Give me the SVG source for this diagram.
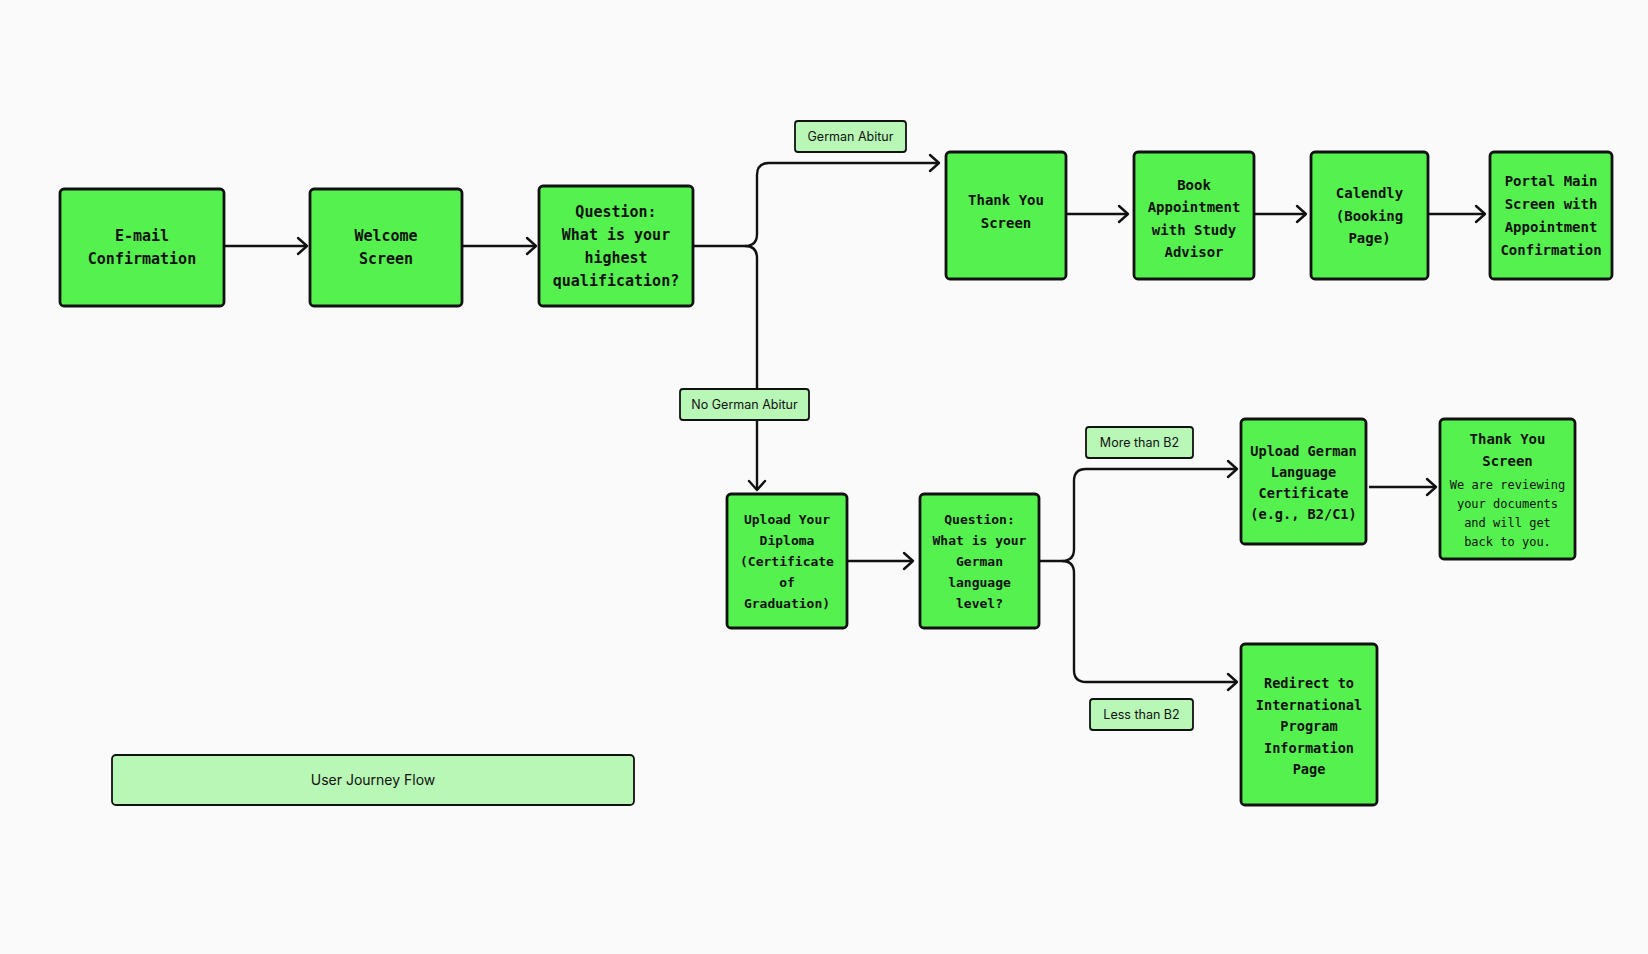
<svg xmlns="http://www.w3.org/2000/svg" width="1648" height="954" viewBox="0 0 1648 954">
<defs>
<marker id="arr" markerUnits="userSpaceOnUse" markerWidth="14" markerHeight="20" viewBox="0 0 14 20" refX="12" refY="10" orient="auto">
<path d="M3,2 L12,10 L3,18" fill="none" stroke="#111" stroke-width="2.4" stroke-linecap="round" stroke-linejoin="round"/>
</marker>
<style>
.node{fill:#55f24f;stroke:#111;stroke-width:2.8}
.lab{fill:#b8f7b5;stroke:#111;stroke-width:1.8}
.t{font-family:"DejaVu Sans Mono","Liberation Mono",monospace;font-weight:bold;fill:#111;text-anchor:middle}
.t15{font-size:15px}
.t14{font-size:14px}
.t13{font-size:13px}
.t13b{font-size:13.6px}
.t12{font-size:12px;font-weight:normal}
.l{font-family:Inter,"Liberation Sans",sans-serif;font-size:12.5px;fill:#111;text-anchor:middle}
.c{fill:none;stroke:#111;stroke-width:2.4;marker-end:url(#arr)}
</style>
</defs>
<rect width="1648" height="954" fill="#fafafa"/>
<g id="connectors">
<path class="c" d="M224 246 H307"/>
<path class="c" d="M462 246 H536"/>
<path class="c" d="M693 246 H745 q12 0 12 -12 V175 q0 -12 12 -12 H939"/>
<path class="c" d="M745 246 q12 0 12 12 V490"/>
<path class="c" d="M1066 214 H1128"/>
<path class="c" d="M1254 214 H1306"/>
<path class="c" d="M1428 214 H1485"/>
<path class="c" d="M847 561 H913"/>
<path class="c" d="M1039 561 H1062 q12 0 12 -12 V481 q0 -12 12 -12 H1237"/>
<path class="c" d="M1062 561 q12 0 12 12 V670 q0 12 12 12 H1237"/>
<path class="c" d="M1369 487 H1436"/>
</g>
<g id="lbl-german-abitur"><rect class="lab" x="795" y="121" width="111" height="31" rx="3"/><text class="l" x="850.5" y="141">German Abitur</text></g>
<g id="lbl-no-german-abitur"><rect class="lab" x="680" y="389" width="129" height="31" rx="3"/><text class="l" x="744.5" y="409">No German Abitur</text></g>
<g id="lbl-more-b2"><rect class="lab" x="1086" y="427" width="107" height="31" rx="3"/><text class="l" x="1139.5" y="447">More than B2</text></g>
<g id="lbl-less-b2"><rect class="lab" x="1090" y="699" width="103" height="31" rx="3"/><text class="l" x="1141.5" y="719">Less than B2</text></g>
<g id="n-email"><rect class="node" x="60" y="189" width="164" height="117" rx="4"/>
<text class="t t15" x="142" y="240.5">E-mail</text><text class="t t15" x="142" y="263.5">Confirmation</text></g>
<g id="n-welcome"><rect class="node" x="310" y="189" width="152" height="117" rx="4"/>
<text class="t t15" x="386" y="240.5">Welcome</text><text class="t t15" x="386" y="263.5">Screen</text></g>
<g id="n-question1"><rect class="node" x="539" y="186" width="154" height="120" rx="4"/>
<text class="t t15" x="616" y="217">Question:</text><text class="t t15" x="616" y="240">What is your</text><text class="t t15" x="616" y="263">highest</text><text class="t t15" x="616" y="286">qualification?</text></g>
<g id="n-thankyou1"><rect class="node" x="946" y="152" width="120" height="127" rx="4"/>
<text class="t t14" x="1006" y="204.5">Thank You</text><text class="t t14" x="1006" y="227.5">Screen</text></g>
<g id="n-book"><rect class="node" x="1134" y="152" width="120" height="127" rx="4"/>
<text class="t t14" x="1194" y="189.5">Book</text><text class="t t14" x="1194" y="212">Appointment</text><text class="t t14" x="1194" y="234.5">with Study</text><text class="t t14" x="1194" y="257">Advisor</text></g>
<g id="n-calendly"><rect class="node" x="1311" y="152" width="117" height="127" rx="4"/>
<text class="t t14" x="1369.5" y="198">Calendly</text><text class="t t14" x="1369.5" y="220.5">(Booking</text><text class="t t14" x="1369.5" y="243">Page)</text></g>
<g id="n-portal"><rect class="node" x="1490" y="152" width="122" height="127" rx="4"/>
<text class="t t14" x="1551" y="185.5">Portal Main</text><text class="t t14" x="1551" y="208.5">Screen with</text><text class="t t14" x="1551" y="231.5">Appointment</text><text class="t t14" x="1551" y="254.5">Confirmation</text></g>
<g id="n-upload-diploma"><rect class="node" x="727" y="494" width="120" height="134" rx="4"/>
<text class="t t13" x="787" y="523.5">Upload Your</text><text class="t t13" x="787" y="544.5">Diploma</text><text class="t t13" x="787" y="565.5">(Certificate</text><text class="t t13" x="787" y="586.5">of</text><text class="t t13" x="787" y="607.5">Graduation)</text></g>
<g id="n-question2"><rect class="node" x="920" y="494" width="119" height="134" rx="4"/>
<text class="t t13" x="979.5" y="523.5">Question:</text><text class="t t13" x="979.5" y="544.5">What is your</text><text class="t t13" x="979.5" y="565.5">German</text><text class="t t13" x="979.5" y="586.5">language</text><text class="t t13" x="979.5" y="607.5">level?</text></g>
<g id="n-upload-german"><rect class="node" x="1241" y="419" width="125" height="125" rx="4"/>
<text class="t t13b" x="1303.5" y="455.5">Upload German</text><text class="t t13b" x="1303.5" y="476.5">Language</text><text class="t t13b" x="1303.5" y="497.5">Certificate</text><text class="t t13b" x="1303.5" y="519">(e.g., B2/C1)</text></g>
<g id="n-thankyou2"><rect class="node" x="1440" y="419" width="135" height="140" rx="4"/>
<text class="t t14" x="1507.5" y="444">Thank You</text><text class="t t14" x="1507.5" y="466">Screen</text>
<text class="t t12" x="1507.5" y="488.5">We are reviewing</text><text class="t t12" x="1507.5" y="507.5">your documents</text><text class="t t12" x="1507.5" y="526.5">and will get</text><text class="t t12" x="1507.5" y="546">back to you.</text></g>
<g id="n-redirect"><rect class="node" x="1241" y="644" width="136" height="161" rx="4"/>
<text class="t t13b" x="1309" y="687.5">Redirect to</text><text class="t t13b" x="1309" y="709.5">International</text><text class="t t13b" x="1309" y="730.5">Program</text><text class="t t13b" x="1309" y="752.5">Information</text><text class="t t13b" x="1309" y="773.5">Page</text></g>
<g id="n-legend"><rect class="lab" x="112" y="755" width="522" height="50" rx="4" stroke-width="2.6"/><text class="l" x="373" y="785" style="font-size:14px">User Journey Flow</text></g>
</svg>
